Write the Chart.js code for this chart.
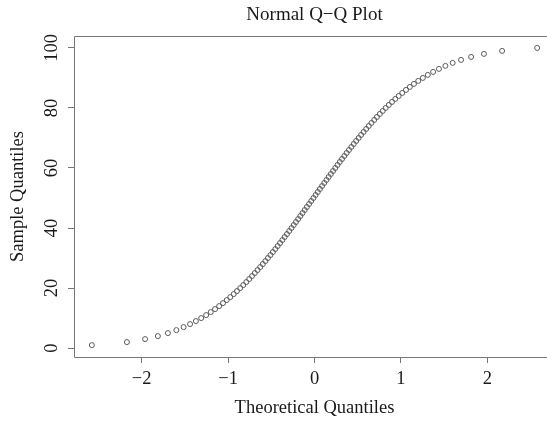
<!DOCTYPE html>
<html>
<head>
<meta charset="utf-8">
<script src="https://cdn.jsdelivr.net/npm/chart.js@4"></script>
<style>
html, body { margin: 0; padding: 0; overflow: hidden; background: #fff; width: 547px; height: 421px; }
canvas { display: block; }
</style>
</head>
<body>
<canvas id="c" width="560" height="421" style="width:560px;height:421px"></canvas>
<script>
// Theoretical quantiles (x)
const theoreticalQuantiles = [
  -2.5758, -2.1701, -1.9600, -1.8119, -1.6954, -1.5982, -1.5141, -1.4395, -1.3722, -1.3106,
  -1.2536, -1.2004, -1.1503, -1.1031, -1.0581, -1.0152, -0.9741, -0.9346, -0.8965, -0.8596,
  -0.8239, -0.7892, -0.7554, -0.7225, -0.6903, -0.6588, -0.6280, -0.5978, -0.5681, -0.5388,
  -0.5101, -0.4817, -0.4538, -0.4261, -0.3989, -0.3719, -0.3451, -0.3186, -0.2924, -0.2663,
  -0.2404, -0.2147, -0.1891, -0.1637, -0.1383, -0.1130, -0.0878, -0.0627, -0.0376, -0.0125,
  0.0125, 0.0376, 0.0627, 0.0878, 0.1130, 0.1383, 0.1637, 0.1891, 0.2147, 0.2404,
  0.2663, 0.2924, 0.3186, 0.3451, 0.3719, 0.3989, 0.4261, 0.4538, 0.4817, 0.5101,
  0.5388, 0.5681, 0.5978, 0.6280, 0.6588, 0.6903, 0.7225, 0.7554, 0.7892, 0.8239,
  0.8596, 0.8965, 0.9346, 0.9741, 1.0152, 1.0581, 1.1031, 1.1503, 1.2004, 1.2536,
  1.3106, 1.3722, 1.4395, 1.5141, 1.5982, 1.6954, 1.8119, 1.9600, 2.1701, 2.5758
];
// Sample quantiles (y)
const sampleQuantiles = [
  1, 2, 3, 4, 5, 6, 7, 8, 9, 10,
  11, 12, 13, 14, 15, 16, 17, 18, 19, 20,
  21, 22, 23, 24, 25, 26, 27, 28, 29, 30,
  31, 32, 33, 34, 35, 36, 37, 38, 39, 40,
  41, 42, 43, 44, 45, 46, 47, 48, 49, 50,
  51, 52, 53, 54, 55, 56, 57, 58, 59, 60,
  61, 62, 63, 64, 65, 66, 67, 68, 69, 70,
  71, 72, 73, 74, 75, 76, 77, 78, 79, 80,
  81, 82, 83, 84, 85, 86, 87, 88, 89, 90,
  91, 92, 93, 94, 95, 96, 97, 98, 99, 100
];
const xTicks = [-2, -1, 0, 1, 2];
const yTicks = [0, 20, 40, 60, 80, 100];

const chartTitle = 'Normal Q\u2212Q Plot';
const xTitle = 'Theoretical Quantiles';
const yTitle = 'Sample Quantiles';

const points = theoreticalQuantiles.map((x, i) => ({ x: x, y: sampleQuantiles[i] }));
const FONT = 'Liberation Serif, Times New Roman, serif';
const AXIS = '#777';
const TEXT = '#1a1a1a';
const minus = v => String(v).replace('-', '\u2212');

// Plot frame: top, left and bottom sides (the right side lies outside the picture)
const boxPlugin = {
  id: 'box',
  afterDraw(chart) {
    const a = chart.chartArea;
    const ctx = chart.ctx;
    const l = Math.round(a.left) + 0.5, t = Math.round(a.top) + 0.5;
    const b = Math.round(a.bottom) + 0.5, w = chart.width + 2;
    ctx.save();
    ctx.strokeStyle = AXIS;
    ctx.lineWidth = 1;
    ctx.beginPath(); ctx.moveTo(l, t); ctx.lineTo(w, t); ctx.stroke();
    ctx.beginPath(); ctx.moveTo(l, t); ctx.lineTo(l, b); ctx.stroke();
    ctx.beginPath(); ctx.moveTo(l, b); ctx.lineTo(w, b); ctx.stroke();
    ctx.restore();
  }
};

new Chart(document.getElementById('c'), {
  type: 'scatter',
  data: {
    datasets: [{
      data: points,
      pointStyle: 'circle',
      pointRadius: 2.5,
      pointBorderWidth: 1,
      pointBorderColor: '#5a5a5a',
      pointBackgroundColor: 'rgba(0,0,0,0)',
      showLine: false
    }]
  },
  options: {
    responsive: false,
    animation: false,
    layout: { padding: { left: 0, right: 4, top: 0, bottom: 0 } },
    plugins: {
      legend: { display: false },
      tooltip: { enabled: false },
      title: {
        display: true,
        text: chartTitle,
        fullSize: false,
        color: TEXT,
        font: { family: FONT, size: 19, weight: 'normal' },
        padding: { top: 3.5, bottom: 9.7 }
      }
    },
    scales: {
      x: {
        type: 'linear',
        min: -2.782, max: 2.782,
        afterBuildTicks: s => { s.ticks = xTicks.map(v => ({ value: v })); },
        afterFit: s => { s.height = 64; },
        grid: { drawOnChartArea: false, drawTicks: true, tickLength: 6, color: AXIS, tickColor: AXIS },
        border: { display: false },
        ticks: { color: TEXT, font: { family: FONT, size: 18.5 }, padding: 5, maxRotation: 0, callback: minus },
        title: { display: true, text: xTitle, color: TEXT, font: { family: FONT, size: 18.5 }, padding: { top: 0, bottom: 2 } }
      },
      y: {
        type: 'linear',
        min: -2.96, max: 103.96,
        afterBuildTicks: s => { s.ticks = yTicks.map(v => ({ value: v })); },
        afterFit: s => { s.width = 74; },
        grid: { drawOnChartArea: false, drawTicks: true, tickLength: 6, color: AXIS, tickColor: AXIS },
        border: { display: false },
        ticks: { color: TEXT, font: { family: FONT, size: 18.5 }, padding: 2, minRotation: 90, maxRotation: 90, crossAlign: 'center', callback: minus },
        title: { display: true, text: yTitle, color: TEXT, font: { family: FONT, size: 18.5 }, padding: { top: 7, bottom: 0 } }
      }
    }
  },
  plugins: [boxPlugin]
});
</script>
</body>
</html>
